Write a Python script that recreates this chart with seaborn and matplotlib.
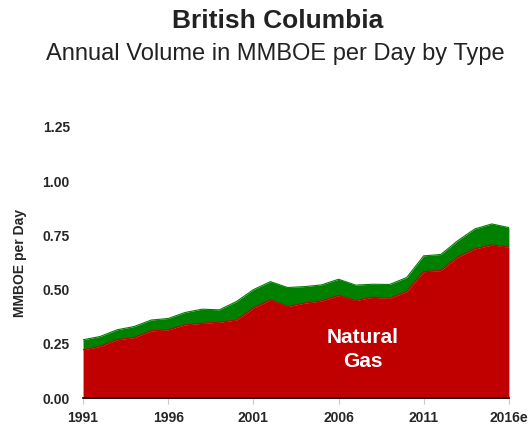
import matplotlib
matplotlib.use("Agg")
import matplotlib.pyplot as plt
import seaborn as sns
import pandas as pd

years = list(range(1991, 2017))
natural_gas = [0.223, 0.238, 0.269, 0.279, 0.310, 0.315, 0.338, 0.345, 0.350, 0.360,
               0.415, 0.453, 0.422, 0.438, 0.448, 0.473, 0.450, 0.465, 0.460, 0.491,
               0.583, 0.588, 0.650, 0.688, 0.706, 0.696]
total = [0.269, 0.284, 0.315, 0.330, 0.360, 0.367, 0.395, 0.410, 0.407, 0.445,
         0.500, 0.537, 0.510, 0.514, 0.522, 0.548, 0.521, 0.525, 0.524, 0.556,
         0.656, 0.662, 0.726, 0.780, 0.803, 0.786]
tick_years = [1991, 1996, 2001, 2006, 2011, 2016]
tick_labels = ["1991", "1996", "2001", "2006", "2011", "2016e"]
y_ticks = [0.0, 0.25, 0.5, 0.75, 1.0, 1.25]

df = pd.DataFrame({"year": years, "gas": natural_gas, "total": total})

sns.set_style("white")
plt.rcParams["font.family"] = ["Liberation Sans", "DejaVu Sans"]

fig = plt.figure(figsize=(5.29, 4.29), dpi=100)
ax = fig.add_axes([0.157, 0.072, 0.805, 0.632])

red = "#C00000"
green = "#008000"
ax.fill_between(df["year"], df["gas"], df["total"], color=green, linewidth=0)
ax.fill_between(df["year"], 0, df["gas"], color=red, linewidth=0)
sns.lineplot(data=df, x="year", y="total", ax=ax, color=green, linewidth=0.8)
sns.lineplot(data=df, x="year", y="gas", ax=ax, color=red, linewidth=0.8)

ax.set_xlim(1991, 2016)
ax.set_ylim(0, 1.25)
ax.set_xticks(tick_years)
ax.set_xticklabels(tick_labels, fontsize=10, fontweight="bold")
ax.set_yticks(y_ticks)
ax.set_yticklabels([f"{v:.2f}" for v in y_ticks], fontsize=10, fontweight="bold")
ax.set_xlabel("")
ax.set_ylabel("MMBOE per Day", fontsize=10, fontweight="bold")
ax.yaxis.set_label_coords(-0.132, 0.5)

for s in ["top", "right", "left"]:
    ax.spines[s].set_visible(False)
ax.spines["bottom"].set_color("black")
ax.spines["bottom"].set_linewidth(1.2)
ax.tick_params(axis="x", bottom=True, length=4, color="#c8c8c8", width=0.8, pad=5)
ax.tick_params(axis="y", left=False, length=0, pad=9.5)

ax.text(2007.4, 0.225, "Natural\nGas", color="white", fontsize=15, fontweight="bold",
        ha="center", va="center", linespacing=1.3)

fig.text(0.524, 0.951, "British Columbia", ha="center", va="center",
         fontsize=19, fontweight="bold", color="#222222")
fig.text(0.521, 0.874, "Annual Volume in MMBOE per Day by Type", ha="center", va="center",
         fontsize=17, color="#222222")

fig.savefig("out.png", dpi=100)
